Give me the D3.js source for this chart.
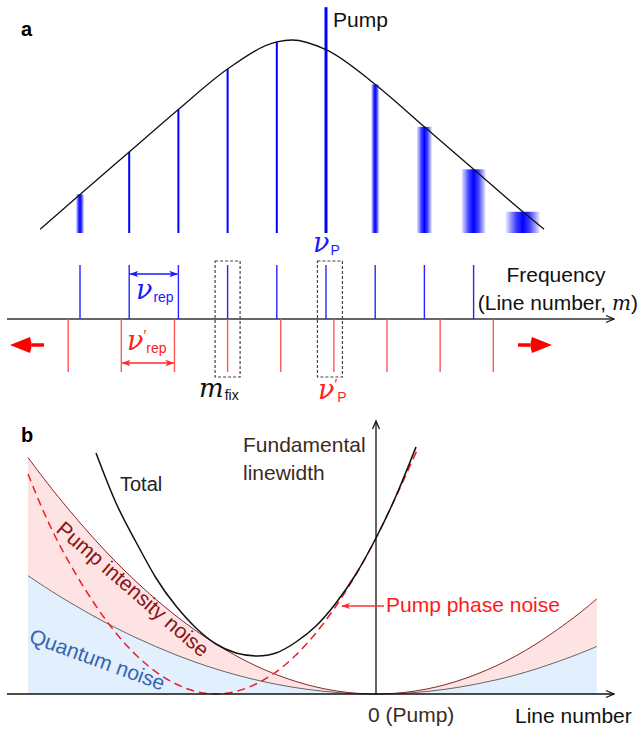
<!DOCTYPE html>
<html>
<head>
<meta charset="utf-8">
<script src="https://cdn.jsdelivr.net/npm/d3@7"></script>
<style>
body { margin: 0; background: #fff; }
text { font-family: 'Liberation Sans', Arial, sans-serif; }
</style>
</head>
<body>
<script>
let width = 643, height = 731

// panel a: comb lines and envelope (m = line number, pump at 0)
let lineNum = [-5, -4, -3, -2, -1, 0, 1, 2, 3, 4]
let lineAmp = [0.2, 0.42, 0.64, 0.85, 0.99, 1.17, 0.77, 0.55, 0.33, 0.11]
let lineWidth = [4, 1, 1, 1, 1, 1.5, 4, 7.5, 12, 17]
let envM = [-5.81, -5, -4, -3, -2, -1, -0.69, 0, 1, 2, 3, 4, 4.43]
let envAmp = [0.02, 0.2, 0.42, 0.64, 0.85, 0.99, 1, 0.95, 0.77, 0.55, 0.33, 0.11, 0.02]
let combLines = [-5, -4, -3, -2, -1, 0, 1, 2, 3]
let mFix = -2
let repRatio = 1.08

// panel b: linewidth contributions vs line number
let bM = [-4.35, -4, -3.5, -3, -2.5, -2, -1.5, -1, -0.5, 0, 0.5, 1, 1.5, 2, 2.5, 2.76]
let quantum = [1.183, 1.0, 0.766, 0.563, 0.391, 0.25, 0.141, 0.063, 0.016, 0, 0.016, 0.063, 0.141, 0.25, 0.391, 0.476]
let intensity = [2.365, 2.0, 1.531, 1.125, 0.781, 0.5, 0.281, 0.125, 0.031, 0, 0.031, 0.125, 0.281, 0.5, 0.781, 0.952]
let phaseM = [-4.35, -4, -3.5, -3, -2.5, -2, -1.5, -1, -0.5, 0, 0.52]
let phase = [2.2, 1.56, 0.88, 0.39, 0.1, 0, 0.1, 0.39, 0.88, 1.56, 2.45]
let totalM = [-3.5, -3.25, -3, -2.75, -2.5, -2.25, -2, -1.75, -1.5, -1.25, -1, -0.75, -0.5, -0.25, 0, 0.25, 0.5]
let total = [2.41, 1.91, 1.52, 1.16, 0.88, 0.66, 0.5, 0.41, 0.38, 0.41, 0.52, 0.68, 0.91, 1.2, 1.56, 1.98, 2.47]

let serif = "'DejaVu Serif', 'Liberation Serif', serif"

let svg = d3.select('body').append('svg')
    .attr('width', width).attr('height', height)
    .style('background', '#fff')

let defs = svg.append('defs')
let grad = defs.append('linearGradient').attr('id', 'broad')
    .attr('x1', '0%').attr('x2', '100%').attr('y1', '0%').attr('y2', '0%')
grad.selectAll('stop')
    .data([[0, 0.08], [0.3, 0.75], [0.5, 1], [0.7, 0.75], [1, 0.08]])
    .join('stop')
    .attr('offset', d => d[0])
    .attr('stop-color', '#0000ff')
    .attr('stop-opacity', d => d[1])

function marker(id, color, path, size, open) {
    defs.append('marker').attr('id', id)
        .attr('viewBox', '0 0 10 10').attr('refX', 9).attr('refY', 5)
        .attr('markerWidth', size).attr('markerHeight', size)
        .attr('markerUnits', 'userSpaceOnUse')
        .attr('orient', 'auto-start-reverse')
        .append('path').attr('d', path)
        .attr('fill', open ? 'none' : color)
        .attr('stroke', open ? color : 'none')
        .attr('stroke-width', 1.3)
}
marker('axisHead', '#111', 'M1,1.5 L9,5 L1,8.5', 10, true)
marker('blueHead', '#1a1aff', 'M0,1.5 L10,5 L0,8.5 L2.5,5 Z', 9, false)
marker('redHead', '#ff2a2a', 'M0,1.5 L10,5 L0,8.5 L2.5,5 Z', 9, false)

let xa = d3.scaleLinear().domain([0, 1]).range([326, 375.2])
let ya = d3.scaleLinear().domain([0, 1]).range([233, 40])
let xRed = m => xa(mFix + (m - mFix) * repRatio)
let lw = d3.scaleLinear().domain([0, 1]).range([0, 2])

// --- panel a, top: spectrum
let lines = lineNum.map((m, i) => ({ m: m, a: lineAmp[i], w: lineWidth[i] }))
svg.append('g').selectAll('rect')
    .data(lines)
    .join('rect')
    .attr('x', d => xa(d.m) - lw(d.w) / 2)
    .attr('y', d => ya(d.a))
    .attr('width', d => lw(d.w))
    .attr('height', d => ya(0) - ya(d.a))
    .attr('fill', d => d.w >= 3 ? 'url(#broad)' : '#0000ff')

svg.append('path')
    .datum(envM.map((m, i) => [m, envAmp[i]]))
    .attr('d', d3.line().x(d => xa(d[0])).y(d => ya(d[1])).curve(d3.curveMonotoneX))
    .attr('fill', 'none').attr('stroke', '#111').attr('stroke-width', 1.3)

svg.append('text').attr('x', 21).attr('y', 36)
    .attr('font-size', 20).attr('font-weight', 'bold').text('a')
svg.append('text').attr('x', 333).attr('y', 27)
    .attr('font-size', 21).attr('fill', '#111').text('Pump')

// --- panel a, middle: two combs
let axisY = 319
svg.append('line').attr('x1', 7).attr('x2', 614)
    .attr('y1', axisY).attr('y2', axisY)
    .attr('stroke', '#333').attr('stroke-width', 1.5)
    .attr('marker-end', 'url(#axisHead)')

svg.append('g').selectAll('line')
    .data(combLines)
    .join('line')
    .attr('x1', d => xa(d)).attr('x2', d => xa(d))
    .attr('y1', 265).attr('y2', axisY)
    .attr('stroke', '#2525ff').attr('stroke-width', 1.4)
svg.append('g').selectAll('line')
    .data(combLines)
    .join('line')
    .attr('x1', d => xRed(d)).attr('x2', d => xRed(d))
    .attr('y1', axisY).attr('y2', 372)
    .attr('stroke', '#ff5555').attr('stroke-width', 1.4)

// spacing arrows
svg.append('line')
    .attr('x1', xa(-4) + 1).attr('x2', xa(-3) - 1).attr('y1', 274).attr('y2', 274)
    .attr('stroke', '#1a1aff').attr('stroke-width', 1.3)
    .attr('marker-start', 'url(#blueHead)').attr('marker-end', 'url(#blueHead)')
svg.append('line')
    .attr('x1', xRed(-4) + 1).attr('x2', xRed(-3) - 1).attr('y1', 363).attr('y2', 363)
    .attr('stroke', '#ff2a2a').attr('stroke-width', 1.3)
    .attr('marker-start', 'url(#redHead)').attr('marker-end', 'url(#redHead)')

// dashed boxes around m_fix and the pump
svg.append('g').selectAll('rect')
    .data([mFix, 0])
    .join('rect')
    .attr('x', d => (xa(d) + xRed(d)) / 2 - 12.5)
    .attr('y', 261).attr('width', 25).attr('height', 116)
    .attr('fill', 'none').attr('stroke', '#444')
    .attr('stroke-width', 1.2).attr('stroke-dasharray', '3,2')

// big red arrows: comb breathing around m_fix
let bigArrow = dir => {
    let g = svg.append('g').attr('fill', '#ff0000').attr('stroke', '#ff0000')
    let tip = dir < 0 ? 10 : 552
    let base = tip - dir * 22
    let end = tip - dir * 34
    g.append('line').attr('x1', base).attr('x2', end).attr('y1', 345).attr('y2', 345)
        .attr('stroke-width', 3.5)
    g.append('path').attr('stroke', 'none')
        .attr('d', `M${tip},345 L${base + dir * 2},337 L${base},345 L${base + dir * 2},353 Z`)
}
bigArrow(-1)
bigArrow(1)

// math labels
let mathLabel = (x, y, color, sub, prime) => {
    let t = svg.append('text').attr('x', x).attr('y', y).attr('fill', color)
    t.append('tspan').attr('font-family', serif)
        .attr('font-style', 'italic').attr('font-size', 27).text('ν')
    if (prime) {
        t.append('tspan').attr('font-size', 15).attr('dy', -10).text('\u2032')
        t.append('tspan').attr('font-size', 14).attr('dy', 13).text(sub)
    } else {
        t.append('tspan').attr('font-size', 14).attr('dx', 1).attr('dy', 3).text(sub)
    }
}
mathLabel(313, 252, '#1a1aff', 'P', false)
mathLabel(136, 299, '#1a1aff', 'rep', false)
mathLabel(127, 350, '#ff2020', 'rep', true)
mathLabel(318, 399, '#ff2020', 'P', true)

let mf = svg.append('text').attr('x', 199).attr('y', 397).attr('fill', '#111')
mf.append('tspan').attr('font-family', serif)
    .attr('font-style', 'italic').attr('font-size', 26).text('m')
mf.append('tspan').attr('font-size', 14).attr('dx', 1).attr('dy', 3).text('fix')

svg.append('text').attr('x', 556).attr('y', 282).attr('text-anchor', 'middle')
    .attr('font-size', 21).attr('fill', '#111').text('Frequency')
let ln = svg.append('text').attr('x', 638).attr('y', 310).attr('text-anchor', 'end')
    .attr('font-size', 21).attr('fill', '#111')
ln.append('tspan').text('(Line number, ')
ln.append('tspan').attr('font-family', serif)
    .attr('font-style', 'italic').attr('font-size', 20).text('m')
ln.append('tspan').text(')')

// --- panel b: linewidth contributions
let xb = d3.scaleLinear().domain([0, 1]).range([376, 456])
let yb = d3.scaleLinear().domain([0, 1]).range([694, 594])
let band = bM.map((m, i) => ({ m: m, q: quantum[i], qi: intensity[i] }))

svg.append('path').datum(band)
    .attr('d', d3.area().x(d => xb(d.m)).y0(yb(0)).y1(d => yb(d.q)).curve(d3.curveNatural))
    .attr('fill', '#e2effd')
svg.append('path').datum(band)
    .attr('d', d3.area().x(d => xb(d.m)).y0(d => yb(d.q)).y1(d => yb(d.qi)).curve(d3.curveNatural))
    .attr('fill', '#fde3e3')
svg.append('path').datum(band)
    .attr('d', d3.line().x(d => xb(d.m)).y(d => yb(d.q)).curve(d3.curveNatural))
    .attr('fill', 'none').attr('stroke', '#666').attr('stroke-width', 1)
svg.append('path').datum(band)
    .attr('d', d3.line().x(d => xb(d.m)).y(d => yb(d.qi)).curve(d3.curveNatural))
    .attr('fill', 'none').attr('stroke', '#8b2525').attr('stroke-width', 1)

svg.append('path')
    .datum(phaseM.map((m, i) => [m, phase[i]]))
    .attr('d', d3.line().x(d => xb(d[0])).y(d => yb(d[1])).curve(d3.curveNatural))
    .attr('fill', 'none').attr('stroke', '#ee1c24').attr('stroke-width', 1.5)
    .attr('stroke-dasharray', '8,5')
svg.append('path')
    .datum(totalM.map((m, i) => [m, total[i]]))
    .attr('d', d3.line().x(d => xb(d[0])).y(d => yb(d[1])).curve(d3.curveNatural))
    .attr('fill', 'none').attr('stroke', '#111').attr('stroke-width', 1.5)

svg.append('line').attr('x1', 7).attr('x2', 614).attr('y1', yb(0)).attr('y2', yb(0))
    .attr('stroke', '#111').attr('stroke-width', 1.3)
    .attr('marker-end', 'url(#axisHead)')
svg.append('line').attr('x1', xb(0)).attr('x2', xb(0)).attr('y1', yb(0)).attr('y2', 421)
    .attr('stroke', '#111').attr('stroke-width', 1.3)
    .attr('marker-end', 'url(#axisHead)')

svg.append('text').attr('x', 21).attr('y', 442)
    .attr('font-size', 20).attr('font-weight', 'bold').text('b')
svg.append('text').attr('x', 243).attr('y', 452)
    .attr('font-size', 21).attr('fill', '#3d2a1e').text('Fundamental')
svg.append('text').attr('x', 243).attr('y', 480)
    .attr('font-size', 21).attr('fill', '#3d2a1e').text('linewidth')
svg.append('text').attr('x', 120).attr('y', 491)
    .attr('font-size', 20).attr('fill', '#222').text('Total')
svg.append('text').attr('transform', 'translate(55,531) rotate(41)')
    .attr('font-size', 21).attr('fill', '#8b1414').text('Pump intensity noise')
svg.append('text').attr('transform', 'translate(28,642) rotate(20)')
    .attr('font-size', 21).attr('fill', '#3564b0').text('Quantum noise')

svg.append('line').attr('x1', 384).attr('x2', 342).attr('y1', 606).attr('y2', 606)
    .attr('stroke', '#ff3030').attr('stroke-width', 1.3)
    .attr('marker-end', 'url(#redHead)')
svg.append('text').attr('x', 386).attr('y', 612)
    .attr('font-size', 21).attr('fill', '#ff1a1a').text('Pump phase noise')
svg.append('text').attr('x', 368).attr('y', 722)
    .attr('font-size', 21).attr('fill', '#3d2a1e').text('0 (Pump)')
svg.append('text').attr('x', 515).attr('y', 723)
    .attr('font-size', 21).attr('fill', '#111').text('Line number')
</script>
</body>
</html>
